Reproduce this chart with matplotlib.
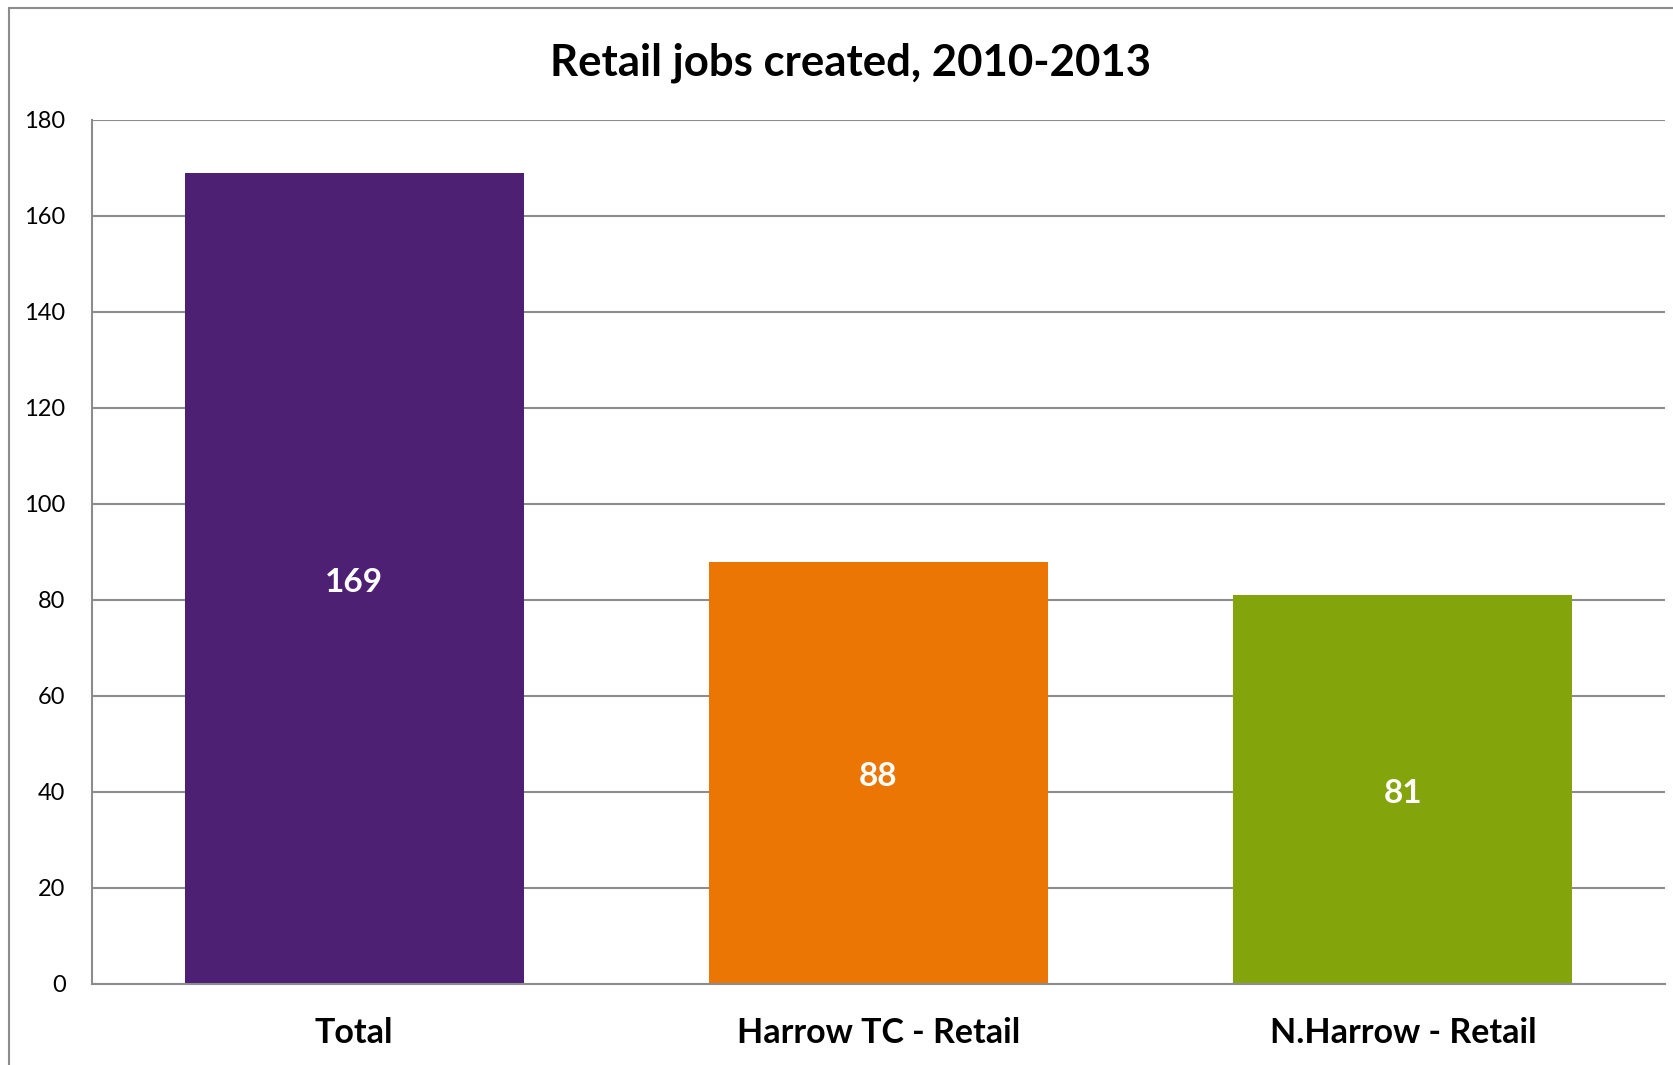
import matplotlib
matplotlib.use("Agg")
import matplotlib.pyplot as plt
from matplotlib.patches import Rectangle

categories = ["Total", "Harrow TC - Retail", "N.Harrow - Retail"]
values = [169, 88, 81]
colors = ["#4e2073", "#ec7604", "#84a40c"]
yticks = [0, 20, 40, 60, 80, 100, 120, 140, 160, 180]

plt.rcParams['font.family'] = ['Lato', 'DejaVu Sans']

W, H = 1674, 1065
fig = plt.figure(figsize=(W / 100, H / 100), dpi=100)
ax = fig.add_axes([92 / W, 1 - 984 / H, (1665 - 92) / W, (984 - 120) / H])

# outer chart frame (right/bottom edges fall outside the picture)
fig.patches.append(Rectangle((9 / W, -0.01), 1.0, 1 - 8 / H + 0.01,
                             transform=fig.transFigure, fill=False,
                             edgecolor="#8c8c8c", linewidth=1.5))

x = range(len(categories))
bars = ax.bar(x, values, width=0.647, color=colors, zorder=3)
for b, v in zip(bars, values):
    ax.text(b.get_x() + b.get_width() / 2, v / 2 - 0.8, str(v), ha="center", va="center",
            color="white", fontsize=24, fontweight="bold", zorder=4)

ax.set_xlim(-0.5, len(categories) - 0.5)
ax.set_ylim(0, 180)
ax.set_yticks(yticks)
ax.set_xticks(list(x))
ax.set_xticklabels(categories, fontsize=24.5, fontweight="bold")
ax.tick_params(axis="y", length=0, pad=19, labelsize=17)
ax.tick_params(axis="x", length=0, pad=24)
ax.grid(axis="y", color="#8c8c8c", linewidth=1.5, zorder=0)
for s in ["top", "right"]:
    ax.spines[s].set_visible(False)
for s in ["left", "bottom"]:
    ax.spines[s].set_color("#8c8c8c")
    ax.spines[s].set_linewidth(1.5)
    ax.spines[s].set_zorder(5)

fig.text(851 / W, 1 - 63 / H, "Retail jobs created, 2010-2013",
         ha="center", va="center", fontsize=31.5, fontweight="bold")

fig.savefig("out.png", dpi=100)
